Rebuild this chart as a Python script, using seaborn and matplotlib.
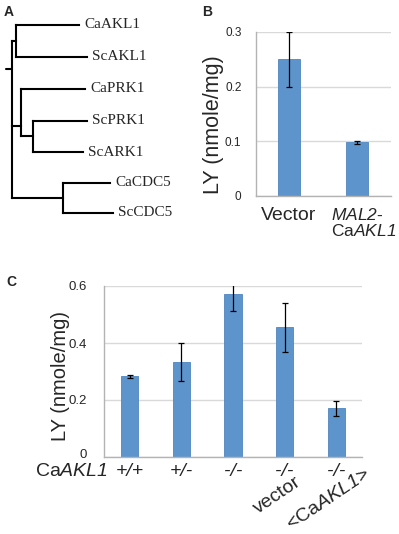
import numpy as np
import pandas as pd
import matplotlib
matplotlib.use("Agg")
import matplotlib.pyplot as plt
import matplotlib.transforms as mtransforms
import seaborn as sns

# --- panel A: tree (leaf tips and internal node positions, tree units) ---
leaves = ["CaAKL1", "ScAKL1", "CaPRK1", "ScPRK1", "ScARK1", "CaCDC5", "ScCDC5"]
leaf_y = [25, 57, 89, 121, 152, 183, 213]
leaf_x = [79, 87, 85, 87, 83, 110, 113]
node_names = ["root", "akl", "prk", "prk2", "cdc"]
node_x = [12, 15.7, 20.7, 33, 63]
node_y = [69, 41, 126, 136.5, 198]
# parent -> children (leaf index as int, internal node as name)
children = {
    "root": ["akl", "prk", "cdc"],
    "akl": [0, 1],
    "prk": [2, "prk2"],
    "prk2": [3, 4],
    "cdc": [5, 6],
}

# --- panel B ---
b_groups = ["Vector", "MAL2-CaAKL1"]
b_labels = ["Vector", "$\\mathsf{MAL2}$-\nCa$\\mathsf{AKL1}$"]
b_values = [0.25, 0.098]
b_err = [0.05, 0.002]

# --- panel C ---
c_groups = ["+/+", "+/-", "-/-", "-/- vector", "-/- <CaAKL1>"]
c_labels = ["+/+", "+/-", "-/-", "-/-", "-/-"]
c_values = [0.283, 0.333, 0.571, 0.455, 0.171]
c_err = [0.005, 0.067, 0.058, 0.086, 0.026]

sns.set_theme(style="white")
plt.rcParams["font.family"] = ["Liberation Sans", "DejaVu Sans"]
plt.rcParams["mathtext.fontset"] = "custom"
plt.rcParams["mathtext.rm"] = "Liberation Sans"
plt.rcParams["mathtext.it"] = "Liberation Sans:italic"
# sf slot used for italic gene names (digits stay italic too)
plt.rcParams["mathtext.sf"] = "Liberation Sans:italic"

BAR = "#5e94cc"
EDGE = "#4f86c0"
GRID = "#d9d9d9"
AXC = "#b3b3b3"

fig = plt.figure(figsize=(3.99, 5.34), dpi=100)

# ---------- A ----------
axA = fig.add_axes([0, 1 - 230 / 534, 200 / 399, 230 / 534])
axA.set_xlim(0, 200)
axA.set_ylim(230, 0)
axA.axis("off")
pos = dict(zip(node_names, zip(node_x, node_y)))
for i, name in enumerate(leaves):
    pos[i] = (leaf_x[i], leaf_y[i])
lw = 1.5
for parent, kids in children.items():
    px, py = pos[parent]
    ys = [pos[k][1] for k in kids]
    axA.plot([px, px], [min(ys), max(ys)], color="black", lw=lw, solid_capstyle="projecting")
    for k in kids:
        kx, ky = pos[k]
        axA.plot([px, kx], [ky, ky], color="black", lw=lw, solid_capstyle="projecting")
rx, ry = pos["root"]
axA.plot([rx - 6, rx], [ry, ry], color="black", lw=lw)
for i, name in enumerate(leaves):
    axA.text(leaf_x[i] + 5, leaf_y[i], name, ha="left", va="center",
             fontsize=11, family=["Liberation Serif", "DejaVu Serif"])


def style_axis(ax, ticks, tick_fs):
    ax.set_yticks(ticks)
    ax.yaxis.grid(True, color=GRID, lw=1)
    ax.set_axisbelow(True)
    for s in ["top", "right"]:
        ax.spines[s].set_visible(False)
    for s in ["left", "bottom"]:
        ax.spines[s].set_color(AXC)
        ax.spines[s].set_linewidth(1)
    ax.tick_params(axis="both", length=0)
    ax.tick_params(axis="y", labelsize=tick_fs)


# ---------- B ----------
axB = fig.add_axes([256 / 399, 1 - 196 / 534, 135 / 399, 164 / 534])
dfB = pd.DataFrame({"group": b_groups, "LY": b_values})
sns.barplot(data=dfB, x="group", y="LY", color=BAR, width=0.32, saturation=1,
            edgecolor=EDGE, linewidth=0.6, ax=axB)
axB.errorbar(range(len(b_values)), b_values, yerr=b_err, fmt="none",
             ecolor="black", elinewidth=0.9, capsize=2, capthick=0.9)
axB.set_xlim(-0.485, 1.5)
axB.set_ylim(0, 0.3)
style_axis(axB, [0, 0.1, 0.2, 0.3], 8.5)
axB.set_yticklabels(["0", "0.1", "0.2", "0.3"])
axB.tick_params(axis="y", pad=10.5)
axB.set_xticks(range(len(b_labels)))
axB.set_xticklabels(b_labels, fontsize=14)
axB.tick_params(axis="x", pad=8)
axB.set_xlabel("")
axB.set_ylabel("LY (nmole/mg)", fontsize=15.5)
axB.yaxis.set_label_coords(-0.24, 0.433)
lab = axB.get_xticklabels()[1]
lab.set_fontsize(12.5)
lab.set_linespacing(1.0)
lab.set_multialignment("left")
lab.set_transform(lab.get_transform() + mtransforms.ScaledTranslation(7 / 100, 0, fig.dpi_scale_trans))

# ---------- C ----------
axC = fig.add_axes([104 / 399, 1 - 457 / 534, 258 / 399, 171 / 534])
dfC = pd.DataFrame({"group": c_groups, "LY": c_values})
sns.barplot(data=dfC, x="group", y="LY", color=BAR, width=0.33, saturation=1,
            edgecolor=EDGE, linewidth=0.6, ax=axC)
axC.errorbar(range(len(c_values)), c_values, yerr=c_err, fmt="none",
             ecolor="black", elinewidth=0.9, capsize=2, capthick=0.9)
axC.set_xlim(-0.5, 4.5)
axC.set_ylim(0, 0.6)
style_axis(axC, [0, 0.2, 0.4, 0.6], 9.5)
axC.set_yticklabels(["0", "0.2", "0.4", "0.6"])
axC.tick_params(axis="y", pad=12)
zero = axC.get_yticklabels()[0]
zero.set_transform(zero.get_transform() + mtransforms.ScaledTranslation(0, 3 / 100, fig.dpi_scale_trans))
axC.set_xticks(range(len(c_labels)))
axC.set_xticklabels(c_labels, fontsize=14, style="italic")
axC.tick_params(axis="x", pad=4)
axC.set_xlabel("")
axC.set_ylabel("LY (nmole/mg)", fontsize=14.5)
axC.yaxis.set_label_coords(-0.132, 0.474)

trans = axC.get_xaxis_transform()
axC.text(-0.43, -0.035, "Ca$\\mathsf{AKL1}$", transform=trans, ha="right", va="top", fontsize=14)
axC.text(2.854, -0.222, "vector", transform=trans, ha="center", va="center",
         rotation=34, rotation_mode="anchor", fontsize=14)
axC.text(3.845, -0.251, "<Ca$\\mathsf{AKL1}$>", transform=trans, ha="center", va="center",
         rotation=34, rotation_mode="anchor", fontsize=14)

# panel letters
fig.text(4 / 399, 1 - 16 / 534, "A", fontsize=10, fontweight="bold")
fig.text(202 / 399, 1 - 16 / 534, "B", fontsize=10, fontweight="bold")
fig.text(6 / 399, 1 - 286 / 534, "C", fontsize=10, fontweight="bold")

fig.savefig("out.png", dpi=100)
